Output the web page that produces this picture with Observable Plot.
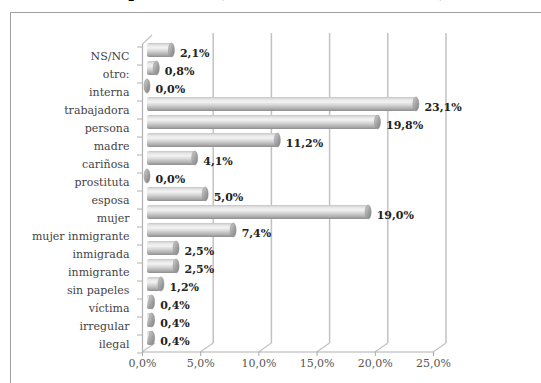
<!DOCTYPE html>
<html>
<head>
<meta charset="utf-8">
<script src="https://cdn.jsdelivr.net/npm/d3@7"></script>
<script src="https://cdn.jsdelivr.net/npm/@observablehq/plot@0.6"></script>
<style>
  html, body { margin: 0; padding: 0; background: #fff; }
  #title { position: relative; width: 541px; height: 9px; overflow: hidden; }
  #title div { position: absolute; left: 112px; top: -21px; font: bold 21px "Liberation Serif", serif; line-height: 21px; white-space: nowrap; color: #000; }
</style>
</head>
<body>
<div id="title"><div>Opinión de (términos más citados %)</div></div>
<div id="chart"></div>
<script>
const categories = ["NS/NC", "otro:", "interna", "trabajadora", "persona", "madre", "cariñosa", "prostituta", "esposa", "mujer", "mujer inmigrante", "inmigrada", "inmigrante", "sin papeles", "víctima", "irregular", "ilegal"];
const values = [2.1, 0.8, 0.0, 23.1, 19.8, 11.2, 4.1, 0.0, 5.0, 19.0, 7.4, 2.5, 2.5, 1.2, 0.4, 0.4, 0.4];
const xTicks = [0, 5, 10, 15, 20, 25];

const data = categories.map((k, i) => ({k, v: values[i]}));
const fmt = v => v.toFixed(1).replace(".", ",") + "%";

const plot = Plot.plot({
  width: 541,
  height: 374,
  marginLeft: 142,
  marginRight: 108,
  marginTop: 34,
  marginBottom: 31,
  style: {fontFamily: "DejaVu Serif", fontSize: "11px", color: "#444", background: "transparent"},
  x: {domain: [0, 25]},
  y: {domain: categories, range: [34.05, 347.95], padding: 0.2},
  marks: [
    Plot.axisY({tickSize: 0, tickPadding: 13, label: null, fill: "#444"}),
    Plot.axisX({ticks: xTicks, tickFormat: fmt, tickSize: 4, tickPadding: 3, stroke: "#a8a8a8", fill: "#555", label: null}),
    Plot.barX(data, {x: "v", y: "k", fill: "url(#cyl)", dx: 5, dy: -6, rx: 2}),
    Plot.barX(data, {x1: "v", x2: "v", y: "k", insetLeft: -3, insetRight: -3, fill: "url(#cap)", stroke: "#8c8c8c", strokeWidth: 0.5, dx: 5, dy: -6, rx: 3, ry: 7}),
    Plot.text(data, {x: "v", y: "k", text: d => fmt(d.v), textAnchor: "start", dx: 13, dy: -3, fontWeight: "bold", fill: "#222"})
  ]
});
document.getElementById("chart").appendChild(plot);

const svg = d3.select(plot);
const defs = svg.insert("defs", ":first-child");
const g1 = defs.append("linearGradient").attr("id", "cyl").attr("x1", 0).attr("y1", 0).attr("x2", 0).attr("y2", 1);
[[0, "#c4c4c4"], [0.15, "#e4e4e4"], [0.35, "#f3f3f3"], [0.6, "#d2d2d2"], [0.85, "#ababab"], [1, "#8d8d8d"]]
  .forEach(([o, c]) => g1.append("stop").attr("offset", o).attr("stop-color", c));
const g2 = defs.append("linearGradient").attr("id", "cap").attr("x1", 0).attr("y1", 0).attr("x2", 1).attr("y2", 1);
[[0, "#d0d0d0"], [0.5, "#a4a4a4"], [1, "#7e7e7e"]]
  .forEach(([o, c]) => g2.append("stop").attr("offset", o).attr("stop-color", c));

const xs = plot.scale("x"), ys = plot.scale("y");
const deco = svg.insert("g", "g").attr("fill", "none");
const line = (x1, y1, x2, y2, c, w) => deco.append("line").attr("x1", x1).attr("y1", y1).attr("x2", x2).attr("y2", y2).attr("stroke", c).attr("stroke-width", w);
// outer frame
line(10.5, 3, 10.5, 374, "#a0a0a0", 1);
line(10, 3.5, 541, 3.5, "#a0a0a0", 1);
// back wall gridlines and floor diagonals
const x0 = xs.apply(0);
xTicks.forEach(t => {
  const xp = xs.apply(t);
  if (t > 0) line(xp + 13, 24, xp + 13, 334, "#c2c2c2", 1.5);
  line(xp, 343, xp + 13, 334, "#c2c2c2", 1.2);
});
// front axes
line(x0, 343, xs.apply(25), 343, "#b0b0b0", 1.2);
line(x0 + 0.5, 35, x0 + 0.5, 343, "#b0b0b0", 1.2);
line(x0 + 0.5, 35, x0 + 10, 26, "#c2c2c2", 1.2);
// y ticks at band boundaries
const step = ys.step;
categories.forEach((k, i) => {
  const c = ys.apply(k) + ys.bandwidth / 2;
  line(x0 - 5, c - step / 2, x0, c - step / 2, "#b0b0b0", 1);
  if (i === categories.length - 1) line(x0 - 5, c + step / 2, x0, c + step / 2, "#b0b0b0", 1);
});
</script>
</body>
</html>
